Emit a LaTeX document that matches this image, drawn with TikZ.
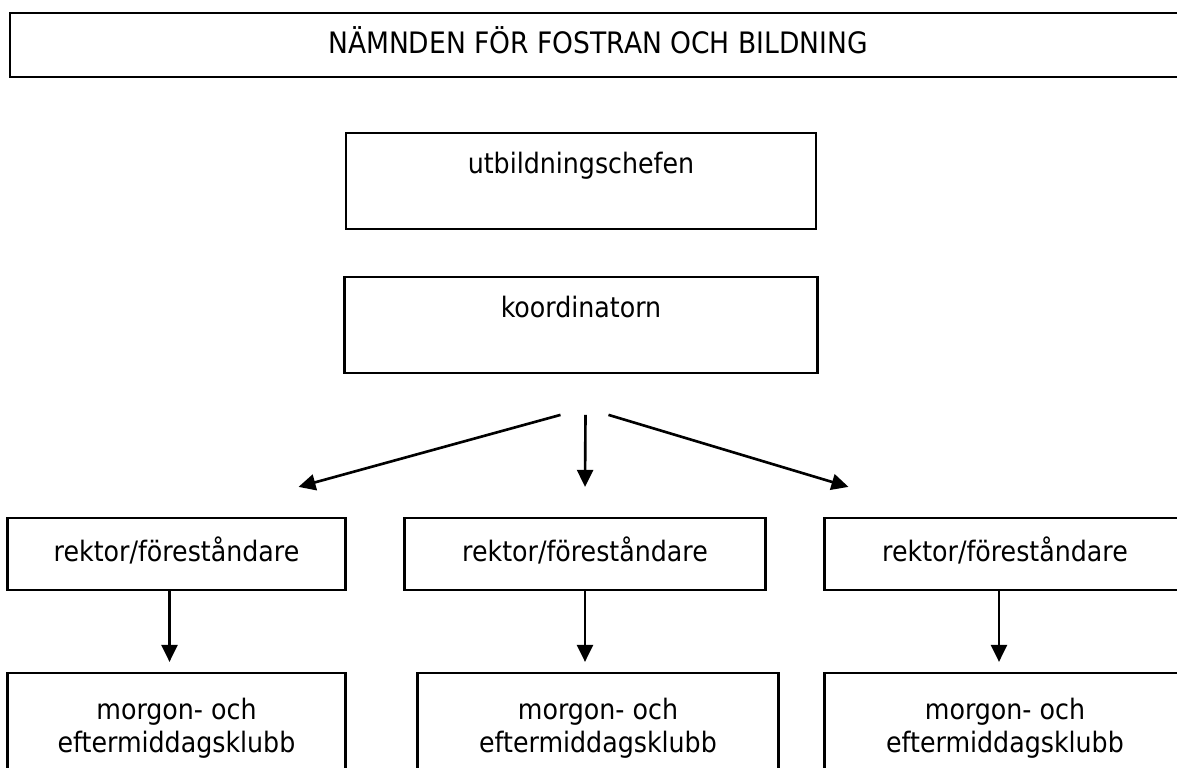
\documentclass[tikz,border=0pt]{standalone}
\usepackage{fontspec}
\setmainfont{DejaVu Sans Condensed}
\usetikzlibrary{arrows.meta}
\usetikzlibrary{positioning}

\begin{document}
\begin{tikzpicture}
    [nbox/.style={rectangle, draw=black, line width=1.5pt, outer sep=0pt, align=center, text height=12pt, font=\fontsize{16pt}{18.8pt}\selectfont},
     upper/.style={nbox, minimum width=9.4cm, inner ysep=10.8pt, text depth=21pt},
     rbox/.style={nbox, minimum width=7.22cm, minimum height=1.44cm, inner ysep=0pt, text depth=3.8pt},
     cbox/.style={nbox, minimum width=7.22cm, inner ysep=14.7pt, text height=30.8pt, text depth=16pt},
     arr/.style={-{Triangle[length=0.34cm, width=0.32cm]}, line width=1.5pt}]

    \useasboundingbox (0,0) rectangle (23.54,-15.36);
    \clip (0,0) rectangle (23.54,-15.36);

    \node [nbox, anchor=north, minimum width=23.52cm, inner ysep=10.4pt, text height=12.5pt, text depth=3.1pt,
           font=\fontsize{16.8pt}{20pt}\selectfont] (nfb) at (11.96,-0.26) {NÄMNDEN FÖR FOSTRAN OCH BILDNING};

    \node [upper, anchor=north] (utb) at (11.62,-2.66) {utbildningschefen};
    \node [upper, below=0.96cm of utb, minimum width=9.46cm] (koord) {koordinatorn};

    \node [rbox, below=2.9cm of koord, xshift=0.08cm] (rekM) {rektor/föreståndare};
    \node [rbox, left=1.18cm of rekM, minimum width=6.76cm] (rekL) {rektor/föreståndare};
    \node [rbox, right=1.18cm of rekM] (rekR) {rektor/föreståndare};

    \node [cbox, below=1.66cm of rekL, minimum width=6.76cm] (clubL) {morgon- och\\eftermiddagsklubb};
    \node [cbox, below=1.66cm of rekM, xshift=0.26cm] (clubM) {morgon- och\\eftermiddagsklubb};
    \node [cbox, below=1.66cm of rekR] (clubR) {morgon- och\\eftermiddagsklubb};

    \draw [arr] ([xshift=-0.41cm, yshift=-0.84cm] koord.south) -- ([xshift=2.44cm, yshift=0.62cm] rekL.north);
    \draw [arr] ([xshift=0.09cm, yshift=-0.84cm] koord.south) -- ([yshift=0.62cm] rekM.north);
    \draw [arr] ([xshift=0.55cm, yshift=-0.84cm] koord.south) -- ([xshift=-3.13cm, yshift=0.62cm] rekR.north);

    \draw [arr, shorten >=0.22cm] ([xshift=-0.14cm] rekL.south) -- ([xshift=-0.14cm] clubL.north);
    \draw [arr, shorten >=0.22cm] (rekM.south) -- (rekM.south |- clubM.north);
    \draw [arr, shorten >=0.22cm] ([xshift=-0.12cm] rekR.south) -- ([xshift=-0.12cm] clubR.north);
\end{tikzpicture}
\end{document}
